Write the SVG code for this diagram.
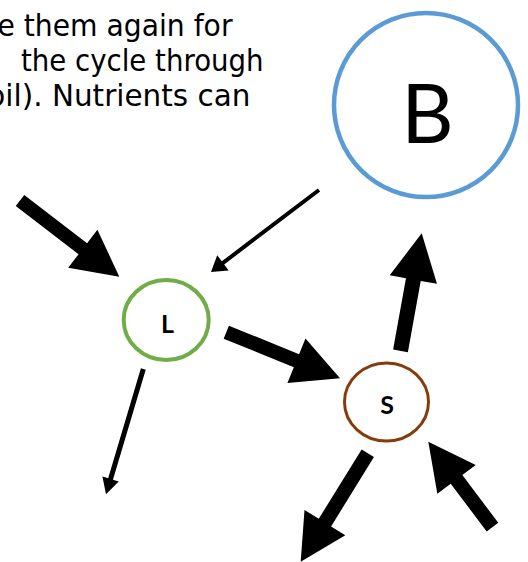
<svg xmlns="http://www.w3.org/2000/svg" width="528" height="562" viewBox="0 0 528 562">
<style>
.para{font-family:"DejaVu Sans","Verdana",sans-serif;font-size:29.5px;fill:#000}
.node{fill:#fff}
.lbl{font-family:Lato,"Liberation Sans",sans-serif;fill:#000;text-anchor:middle}
.arr{fill:#000;stroke:none}
</style>
<rect width="528" height="562" fill="#fff"/>
<g id="text">
<text class="para" transform="translate(-2.6,35.7) scale(0.957,1)">e them again for</text>
<text class="para" transform="translate(20.9,70.7) scale(0.936,1)">the cycle through</text>
<text class="para" transform="translate(-12.7,105.7) scale(0.999,1)">oil). Nutrients can</text>
</g>
<g id="node-B">
<circle class="node" cx="426" cy="105" r="92" stroke="#5B9BD5" stroke-width="4.5"/>
<text class="lbl" x="427.5" y="143" font-size="81">B</text>
</g>
<g id="node-L">
<ellipse class="node" cx="166.2" cy="320" rx="42.5" ry="40" stroke="#70AD47" stroke-width="4"/>
<text class="lbl" x="167.5" y="332.5" font-size="25" font-weight="bold">L</text>
</g>
<g id="node-S">
<ellipse class="node" cx="386.5" cy="402" rx="42" ry="39" stroke="#843C0C" stroke-width="3"/>
<text class="lbl" x="387" y="414.3" font-size="25" font-weight="bold">S</text>
</g>
<g id="connectors">
<polygon class="arr" points="15.74,206.05 78.55,254.25 68.2,267.74 119.3,276.7 97.42,229.66 87.07,243.15 24.26,194.95"/>
<polygon class="arr" points="317.79,188.41 221.74,261.34 217.21,255.36 211,272 228.69,270.5 224.16,264.52 320.21,191.59"/>
<polygon class="arr" points="140.9,368.29 108.17,478.25 102.42,476.54 106,494.3 118.71,481.39 112.96,479.67 145.7,369.71"/>
<polygon class="arr" points="223.67,338.69 293.82,367.13 287.43,382.88 340,378.3 305.47,338.4 299.08,354.15 228.93,325.71"/>
<polygon class="arr" points="407.88,352.13 420.73,280.88 436.97,283.81 421.7,233.3 389.73,275.29 405.97,278.22 393.12,349.47"/>
<polygon class="arr" points="361.64,449.48 318.75,518.77 304.5,509.96 300.7,561.7 345.32,535.22 331.07,526.41 373.96,457.12"/>
<polygon class="arr" points="498.3,522.85 462.32,474.94 475.71,464.88 428.3,441.7 437.33,493.7 450.72,483.64 486.7,531.55"/>
</g>
</svg>
